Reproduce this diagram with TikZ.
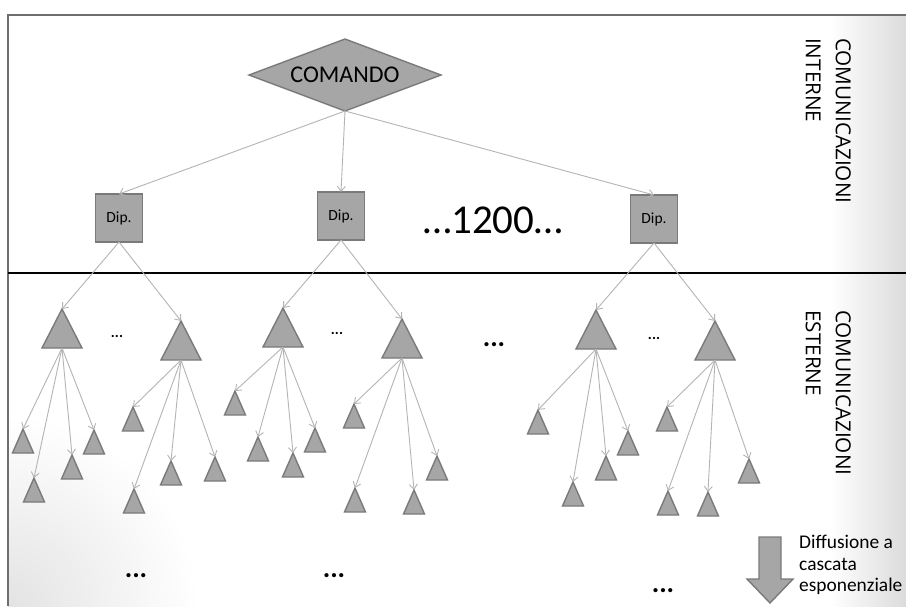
\documentclass[tikz,border=0pt]{standalone}
\usepackage{fontspec}
\setmainfont{Carlito}
\newfontfamily\osans{Open Sans}
\usetikzlibrary{shapes.geometric,arrows.meta}
\definecolor{shapefill}{HTML}{A6A6A6}
\definecolor{shapeline}{HTML}{7A7A7A}
\definecolor{connc}{HTML}{B4B4B4}
\definecolor{framecol}{HTML}{6E6E6E}
\begin{document}
\begin{tikzpicture}[x=1pt,y=-1pt,
  shp/.style={fill=shapefill, draw=shapeline, line width=1.4pt},
  bigtri/.style={shp, isosceles triangle, isosceles triangle stretches,
    shape border rotate=90, minimum width=40pt, minimum height=39pt,
    inner sep=0pt, outer sep=0pt, anchor=north},
  smalltri/.style={bigtri, minimum width=21pt, minimum height=24pt},
  dipbox/.style={shp, rectangle, minimum width=47pt, minimum height=48pt,
    inner sep=0pt, outer sep=0pt, font=\fontsize{15.5}{18}\selectfont},
  conn/.style={draw=connc, line width=0.9pt, -{Straight Barb[length=5pt,width=8pt]}},
  smalldots/.style={inner sep=0pt, font=\bfseries\fontsize{15}{18}\selectfont},
  bigdots/.style={inner sep=0pt, font=\bfseries\fontsize{28}{30}\selectfont},
  sidelabel/.style={rotate=-90, anchor=north west, align=left, inner sep=0pt,
    font=\osans\fontsize{20.7}{30}\selectfont},
  diftext/.style={anchor=base west, inner sep=0pt, font=\fontsize{19.4}{22}\selectfont}
]
\useasboundingbox (0,0) rectangle (906,606);
\fill[white] (0,0) rectangle (906,606);
% background shadings
\begin{scope}
  \clip (8,15) rectangle (906,606);
  \shade[inner color=black!11, outer color=white] (8,606) circle (190);
  \shade[left color=white, right color=black!14] (830,15) rectangle (906,606);
\end{scope}
% frame and separator
\draw[framecol, line width=1.6pt] (8,606) -- (8,15) -- (906,15);
\draw[black, line width=2.4pt] (8,273) -- (906,273);

% command and departments
\node[shp, diamond, aspect=2.67, minimum width=192pt, minimum height=72pt,
  inner sep=0pt, outer sep=0pt, font=\fontsize{24}{28}\selectfont] (cmd) at (345,75) {COMANDO};
\node[dipbox] (d1) at (119,218) {Dip.};
\node[dipbox] (d2) at (341,216) {Dip.};
\node[dipbox] (d3) at (654,219) {Dip.};
\node[anchor=base, inner sep=0pt, font=\fontsize{41}{44}\selectfont] (n1200) at (493,233) {…1200…};

% big triangles
\node[bigtri] (A) at (62,309) {};
\node[bigtri] (B) at (181,321) {};
\node[bigtri] (C) at (283,308) {};
\node[bigtri] (D) at (402,319) {};
\node[bigtri] (E) at (596,310) {};
\node[bigtri] (F) at (715,321) {};

% small triangles
\node[smalltri] (A1) at (23,429) {};
\node[smalltri] (A2) at (34,478) {};
\node[smalltri] (A3) at (72,455) {};
\node[smalltri] (A4) at (94,430) {};
\node[smalltri] (B1) at (133,407) {};
\node[smalltri] (B2) at (134,489) {};
\node[smalltri] (B3) at (171,461) {};
\node[smalltri] (B4) at (215,457) {};
\node[smalltri] (C1) at (235,391) {};
\node[smalltri] (C2) at (258,437) {};
\node[smalltri] (C3) at (293,453) {};
\node[smalltri] (C4) at (315,428) {};
\node[smalltri] (D1) at (354,404) {};
\node[smalltri] (D2) at (355,488) {};
\node[smalltri] (D3) at (414,490) {};
\node[smalltri] (D4) at (437,456) {};
\node[smalltri] (E1) at (538,410) {};
\node[smalltri] (E2) at (573,482) {};
\node[smalltri] (E3) at (606,456) {};
\node[smalltri] (E4) at (628,431) {};
\node[smalltri] (F1) at (667,407) {};
\node[smalltri] (F2) at (668,491) {};
\node[smalltri] (F3) at (708,492) {};
\node[smalltri] (F4) at (749,459) {};

% connectors
\foreach \d in {d1,d2,d3} \draw[conn] (cmd.south) -- (\d.north);
\draw[conn] (d1.south) -- (A.north);
\draw[conn] (d1.south) -- (B.north);
\draw[conn] (d2.south) -- (C.north);
\draw[conn] (d2.south) -- (D.north);
\draw[conn] (d3.south) -- (E.north);
\draw[conn] (d3.south) -- (F.north);
\foreach \p in {A,B,C,D,E,F}
  \foreach \i in {1,2,3,4}
    \draw[conn] (\p.south) -- (\p\i.north);

% dots
\node[smalldots] (s1) at (117,336) {...};
\node[smalldots] (s2) at (337,333) {...};
\node[smalldots] (s3) at (654,338) {...};
\node[bigdots] (b0) at (494,345) {...};
\node[bigdots] (b1) at (136,576) {...};
\node[bigdots] (b2) at (334,576) {...};
\node[bigdots] (b3) at (663,591) {...};

% side labels
\node[sidelabel] (ci) at (851,38) {COMUNICAZIONI\\INTERNE};
\node[sidelabel] (ce) at (851,310) {COMUNICAZIONI\\ESTERNE};

% cascade arrow and text
\filldraw[shp] (759,537) -- (781,537) -- (781,579) -- (793,579) -- (770,603)
  -- (747,579) -- (759,579) -- cycle;
\node[diftext] (t1) at (799,548) {Diffusione a};
\node[diftext] (t2) at (799,570) {cascata};
\node[diftext] (t3) at (799,591) {esponenziale};
\end{tikzpicture}
\end{document}
